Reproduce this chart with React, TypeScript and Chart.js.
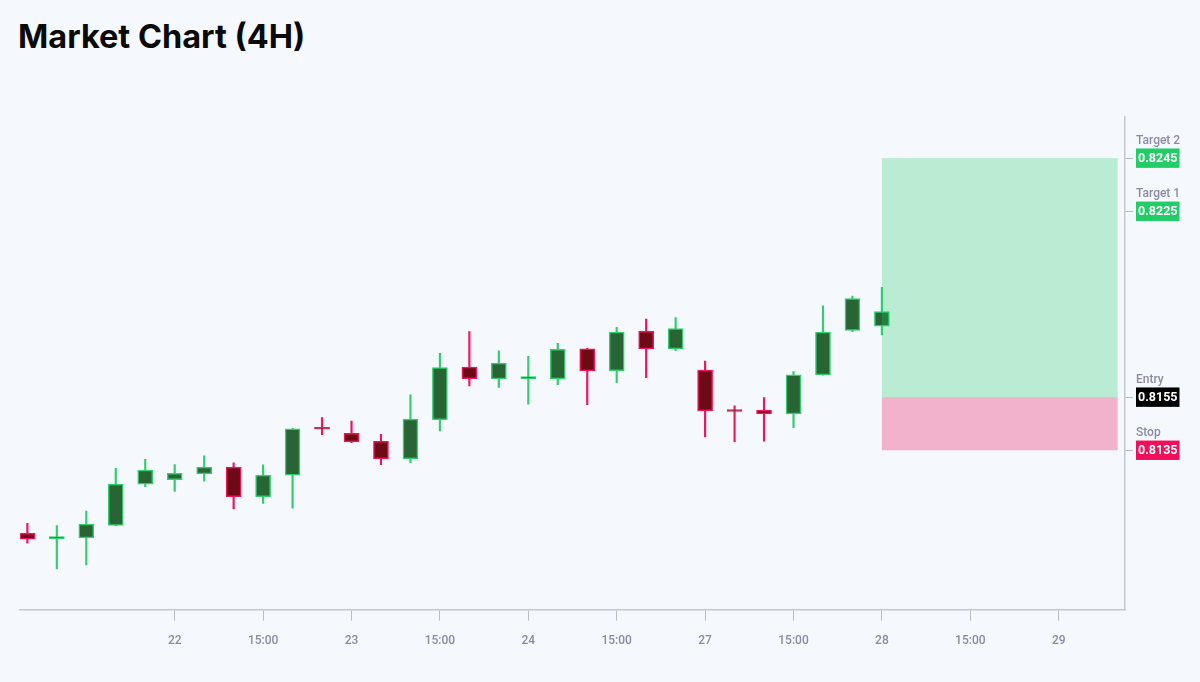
import { useEffect, useRef } from "react"
import { Chart, registerables, type Plugin } from "chart.js"

Chart.register(...registerables)

// candle OHLC, one entry per 4H bar
const opens = [
  0.81037, 0.81017, 0.8102, 0.81067, 0.81222, 0.81239, 0.81261, 0.81287, 0.81175, 0.81256,
  0.81432, 0.81414, 0.81384, 0.81317, 0.81465, 0.81663, 0.81619, 0.8162, 0.81619, 0.81732,
  0.8165, 0.81798, 0.81732, 0.81652, 0.81499, 0.81501, 0.81487, 0.81634, 0.81801, 0.81817,
]
const highs = [
  0.81075, 0.81066, 0.81121, 0.81282, 0.81316, 0.81296, 0.81329, 0.81303, 0.81295, 0.81433,
  0.81473, 0.8146, 0.8141, 0.81559, 0.81715, 0.81797, 0.81724, 0.81704, 0.81753, 0.81734,
  0.81813, 0.81844, 0.8185, 0.81686, 0.81517, 0.81548, 0.81646, 0.81894, 0.81931, 0.81964,
]
const lows = [
  0.81, 0.80903, 0.80918, 0.81066, 0.81213, 0.81195, 0.81234, 0.81129, 0.8115, 0.81132,
  0.81409, 0.81379, 0.81296, 0.81303, 0.81423, 0.81592, 0.81587, 0.81524, 0.81597, 0.81522,
  0.81605, 0.81623, 0.81725, 0.814, 0.81382, 0.81384, 0.81435, 0.81633, 0.81797, 0.81784,
]
const closes = [
  0.81015, 0.81021, 0.81072, 0.81223, 0.81275, 0.81263, 0.81287, 0.81175, 0.81257, 0.81431,
  0.81429, 0.81381, 0.81317, 0.81467, 0.81661, 0.8162, 0.81678, 0.81624, 0.8173, 0.81649,
  0.81795, 0.81732, 0.81808, 0.81498, 0.81496, 0.81487, 0.81634, 0.81795, 0.81921, 0.81872,
]

// x axis ticks (bar index -> label)
const tickIndex = [5, 8, 11, 14, 17, 20, 23, 26, 29, 32, 35]
const tickLabels = ["22", "15:00", "23", "15:00", "24", "15:00", "27", "15:00", "28", "15:00", "29"]

// trade levels
const levelNames = ["Target 2", "Target 1", "Entry", "Stop"]
const levelValues = [0.8245, 0.8225, 0.8155, 0.8135]
const levelColors = ["#22cc66", "#22cc66", "#000000", "#f0105a"]

// trade zone spans these bar indexes
const zoneStart = 29
const zoneEnd = 37

const UP_FILL = "#286434"
const UP_LINE = "#2fcf6c"
const DOWN_FILL = "#6e0a14"
const DOWN_LINE = "#f0145a"

const zonePlugin: Plugin<"bar"> = {
  id: "tradeZone",
  afterDatasetsDraw(chart) {
    const { ctx, scales } = chart
    const x = scales.x
    const y = scales.y
    const x0 = x.getPixelForValue(zoneStart)
    const x1 = x.getPixelForValue(zoneEnd)
    const yTarget = y.getPixelForValue(levelValues[0])
    const yEntry = y.getPixelForValue(levelValues[2])
    const yStop = y.getPixelForValue(levelValues[3])
    ctx.save()
    ctx.fillStyle = "rgba(30, 200, 100, 0.27)"
    ctx.fillRect(x0, yTarget, x1 - x0, yEntry - yTarget)
    ctx.fillStyle = "rgba(240, 16, 90, 0.3)"
    ctx.fillRect(x0, yEntry, x1 - x0, yStop - yEntry)
    ctx.restore()
  },
}

const tagPlugin: Plugin<"bar"> = {
  id: "levelTags",
  afterDraw(chart) {
    const { ctx, chartArea, scales } = chart
    const left = chartArea.right + 11
    ctx.save()
    levelValues.forEach((v, i) => {
      const yy = scales.y.getPixelForValue(v)
      ctx.fillStyle = levelColors[i]
      ctx.fillRect(left, yy - 9.7, 43.5, 19.4)
      ctx.fillStyle = "#ffffff"
      ctx.font = "bold 12.5px Roboto"
      ctx.textAlign = "center"
      ctx.textBaseline = "middle"
      ctx.fillText(v.toFixed(4), left + 21.75, yy + 0.5)
      ctx.fillStyle = "#8a8ca3"
      ctx.font = "500 12px Roboto"
      ctx.textAlign = "left"
      ctx.textBaseline = "alphabetic"
      ctx.fillText(levelNames[i], left, yy - 14.5)
    })
    ctx.restore()
  },
}

function CandleChart() {
  const chartRef = useRef<HTMLCanvasElement>(null)
  const chartInstance = useRef<Chart | null>(null)

  useEffect(() => {
    if (!chartRef.current) return
    const ctx = chartRef.current.getContext("2d")
    if (!ctx) return

    if (chartInstance.current) {
      chartInstance.current.destroy()
    }

    const up = opens.map((o, i) => closes[i] >= o)

    chartInstance.current = new Chart(ctx, {
      type: "bar",
      data: {
        datasets: [
          {
            label: "body",
            data: opens.map((o, i) => ({ x: i, y: [o, closes[i]] })) as any,
            backgroundColor: up.map((u) => (u ? UP_FILL : DOWN_FILL)),
            borderColor: up.map((u) => (u ? UP_LINE : DOWN_LINE)),
            borderWidth: 1.5,
            borderSkipped: false,
            barThickness: 15,
            minBarLength: 2,
            grouped: false,
          },
          {
            label: "wick",
            data: lows.map((l, i) => ({ x: i, y: [l, highs[i]] })) as any,
            backgroundColor: up.map((u) => (u ? UP_LINE : DOWN_LINE)),
            borderWidth: 0,
            barThickness: 1.5,
            grouped: false,
          },
        ],
      },
      options: {
        animation: false,
        responsive: true,
        maintainAspectRatio: false,
        layout: {
          padding: { left: 20, top: 117, right: 67, bottom: 21 },
        },
        plugins: {
          legend: { display: false },
          tooltip: { enabled: false },
        },
        scales: {
          x: {
            type: "linear",
            min: -0.25,
            max: 37.25,
            offset: false,
            afterBuildTicks: (scale) => {
              scale.ticks = tickIndex.map((v) => ({ value: v }))
            },
            grid: {
              offset: false,
              drawOnChartArea: false,
              tickLength: 11,
              color: "#b8bbc8",
            },
            border: { display: true, color: "#c3c6d0", width: 1.5 },
            ticks: {
              padding: 13,
              color: "#8a8ca3",
              font: { family: "Roboto", size: 12, weight: 500 },
              callback: (value) => {
                const k = tickIndex.indexOf(Number(value))
                return k >= 0 ? tickLabels[k] : ""
              },
            },
          },
          y: {
            type: "linear",
            position: "right",
            min: 0.8075,
            max: 0.82605,
            afterBuildTicks: (scale) => {
              scale.ticks = levelValues.map((v) => ({ value: v }))
            },
            grid: {
              drawOnChartArea: false,
              tickLength: 8,
              color: "#b8bbc8",
            },
            border: { display: true, color: "#c3c6d0", width: 1.5 },
            ticks: { display: false },
          },
        },
      },
      plugins: [zonePlugin, tagPlugin],
    })

    return () => {
      if (chartInstance.current) {
        chartInstance.current.destroy()
        chartInstance.current = null
      }
    }
  }, [])

  return <canvas ref={chartRef} />
}

export default function App() {
  return (
    <div
      style={{
        position: "fixed",
        top: 0,
        left: 0,
        width: 1200,
        height: 682,
        background: "#f5f8fd",
        fontFamily: "Roboto, sans-serif",
      }}
    >
      <div
        style={{
          position: "absolute",
          top: 21,
          left: 18,
          fontFamily: "Inter, Roboto, sans-serif",
          fontSize: 32.5,
          lineHeight: "32px",
          fontWeight: 700,
          color: "#0a0a0a",
        }}
      >
        Market Chart (4H)
      </div>
      <div style={{ position: "absolute", top: 0, left: 0, width: 1200, height: 682 }}>
        <CandleChart />
      </div>
    </div>
  )
}
